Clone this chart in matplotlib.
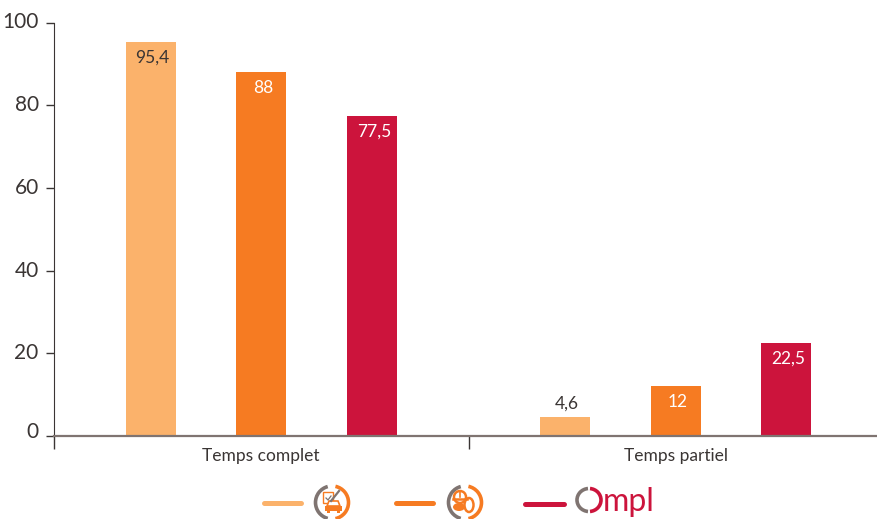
import matplotlib
matplotlib.use("Agg")
import matplotlib.pyplot as plt
from matplotlib.patches import Arc, Rectangle, Ellipse, Polygon, Circle
from matplotlib.transforms import ScaledTranslation

categories = ["Temps complet", "Temps partiel"]
serie_1 = [95.4, 4.6]
serie_2 = [88, 12]
serie_3 = [77.5, 22.5]
labels_1 = ["95,4", "4,6"]
labels_2 = ["88", "12"]
labels_3 = ["77,5", "22,5"]
y_ticks = [0, 20, 40, 60, 80, 100]

COL_1 = "#fbb26b"
COL_2 = "#f67b22"
COL_3 = "#cc143c"
GREY = "#7f7471"
DARK = "#3a3534"
W, H = 877, 519
GROUP = 414.5

plt.rcParams["font.family"] = ["Lato", "DejaVu Sans"]
fig = plt.figure(figsize=(W / 100, H / 100), dpi=100)
ax = fig.add_axes([54 / W, 1 - 436 / H, (W - 54) / W, (436 - 22.5) / H])

bar_w = 50 / GROUP
offset = 110.5 / GROUP
for i, (vals, col) in enumerate([(serie_1, COL_1), (serie_2, COL_2), (serie_3, COL_3)]):
    xs = [k + (i - 1) * offset for k in range(len(categories))]
    ax.bar(xs, vals, width=bar_w, color=col, linewidth=0, zorder=2)

ax.set_xlim(-0.5, -0.5 + (W - 54) / GROUP)
ax.set_ylim(0, 100)
ax.spines["top"].set_visible(False)
ax.spines["right"].set_visible(False)
ax.spines["left"].set_color(DARK)
ax.spines["left"].set_bounds(0, 100)
ax.spines["bottom"].set_color(GREY)
ax.spines["bottom"].set_linewidth(1.6)

ax.set_yticks(y_ticks)
ax.set_yticklabels([str(v) for v in y_ticks], fontsize=15, color=DARK)
ax.tick_params(axis="y", length=6, width=1, color=DARK, pad=5)
ax.set_xticks([-0.5, 0.5])
ax.set_xticklabels(["", ""])
ax.tick_params(axis="x", length=9.5, width=1, color=DARK)
for lab, v in zip(ax.get_yticklabels(), y_ticks):
    # les etiquettes sont un peu au dessus des graduations
    up = (436 - 430) if v == 0 else 2
    lab.set_transform(lab.get_transform() + ScaledTranslation(0, up / 100, fig.dpi_scale_trans))

for k, name in enumerate(categories):
    ax.annotate(name, (k, 0), xytext=(0, -20), textcoords="offset pixels", ha="center",
                va="center", fontsize=12.5, color=DARK)


def put_labels(vals, labels, i, color):
    for k, (v, t) in enumerate(zip(vals, labels)):
        x = k + (i - 1) * offset
        if v < 8:
            ax.annotate(t, (x, v), xytext=(2, 13), textcoords="offset pixels", ha="center",
                        va="center", fontsize=12.5, color=DARK)
        else:
            ax.annotate(t, (x, v), xytext=(2, -16), textcoords="offset pixels", ha="center",
                        va="center", fontsize=12.5, color=color)


put_labels(serie_1, labels_1, 0, DARK)
put_labels(serie_2, labels_2, 1, "white")
put_labels(serie_3, labels_3, 2, "white")

# legende dessinee a la main, repere en pixels
lg = fig.add_axes([0, 0, 1, 1], facecolor="none")
lg.set_xlim(0, W)
lg.set_ylim(H, 0)
lg.axis("off")


def key_line(x0, x1, y, col):
    lg.plot([x0, x1], [y, y], color=col, lw=3.6, solid_capstyle="round")


def ring(cx, cy, col_right, size=33, lw=2.6):
    lg.add_patch(Arc((cx, cy), size, size, theta1=105, theta2=255, color=GREY, lw=lw))
    lg.add_patch(Arc((cx, cy), size, size, theta1=-78, theta2=78, color=col_right, lw=lw))


key_line(264, 301, 503, COL_1)
ring(332, 502.5, COL_2)
# feuille, stylo et voiture
lg.add_patch(Rectangle((323, 492), 10, 11, fc="white", ec=COL_2, lw=1))
lg.plot([326, 328, 331], [498, 500, 496], color=GREY, lw=0.9)
lg.plot([331, 339], [501, 491], color=GREY, lw=1.6)
lg.add_patch(Polygon([(327, 506), (329, 501), (338, 501), (340, 506)], fc="white", ec=COL_2, lw=1.2))
lg.add_patch(Rectangle((325, 506), 17, 5, fc=COL_2, ec="none"))
lg.add_patch(Rectangle((327, 511), 3, 2, fc=COL_2, ec="none"))
lg.add_patch(Rectangle((337, 511), 3, 2, fc=COL_2, ec="none"))

key_line(396, 433, 503, COL_2)
ring(465, 502.5, COL_2)
# casque et pneu
lg.add_patch(Circle((460, 497), 6, fc="white", ec=COL_2, lw=1.8))
lg.plot([460, 460], [491, 497], color=COL_2, lw=1.2)
lg.plot([453, 467], [499, 499], color=COL_2, lw=1.8)
lg.add_patch(Ellipse((459, 507), 12, 8, fc=COL_2, ec="none"))
lg.add_patch(Ellipse((469, 505), 9, 14, fc="white", ec=COL_2, lw=1.8))

key_line(525, 564, 504, COL_3)
# logo Ompl
lg.add_patch(Arc((589, 500), 24, 23, theta1=95, theta2=265, color=GREY, lw=2.6))
lg.add_patch(Arc((589, 500), 24, 23, theta1=-85, theta2=85, color=COL_3, lw=2.6))
lg.text(603, 511, "mpl", fontsize=23, color=COL_3, ha="left", va="baseline")

fig.savefig("out.png", dpi=100)
